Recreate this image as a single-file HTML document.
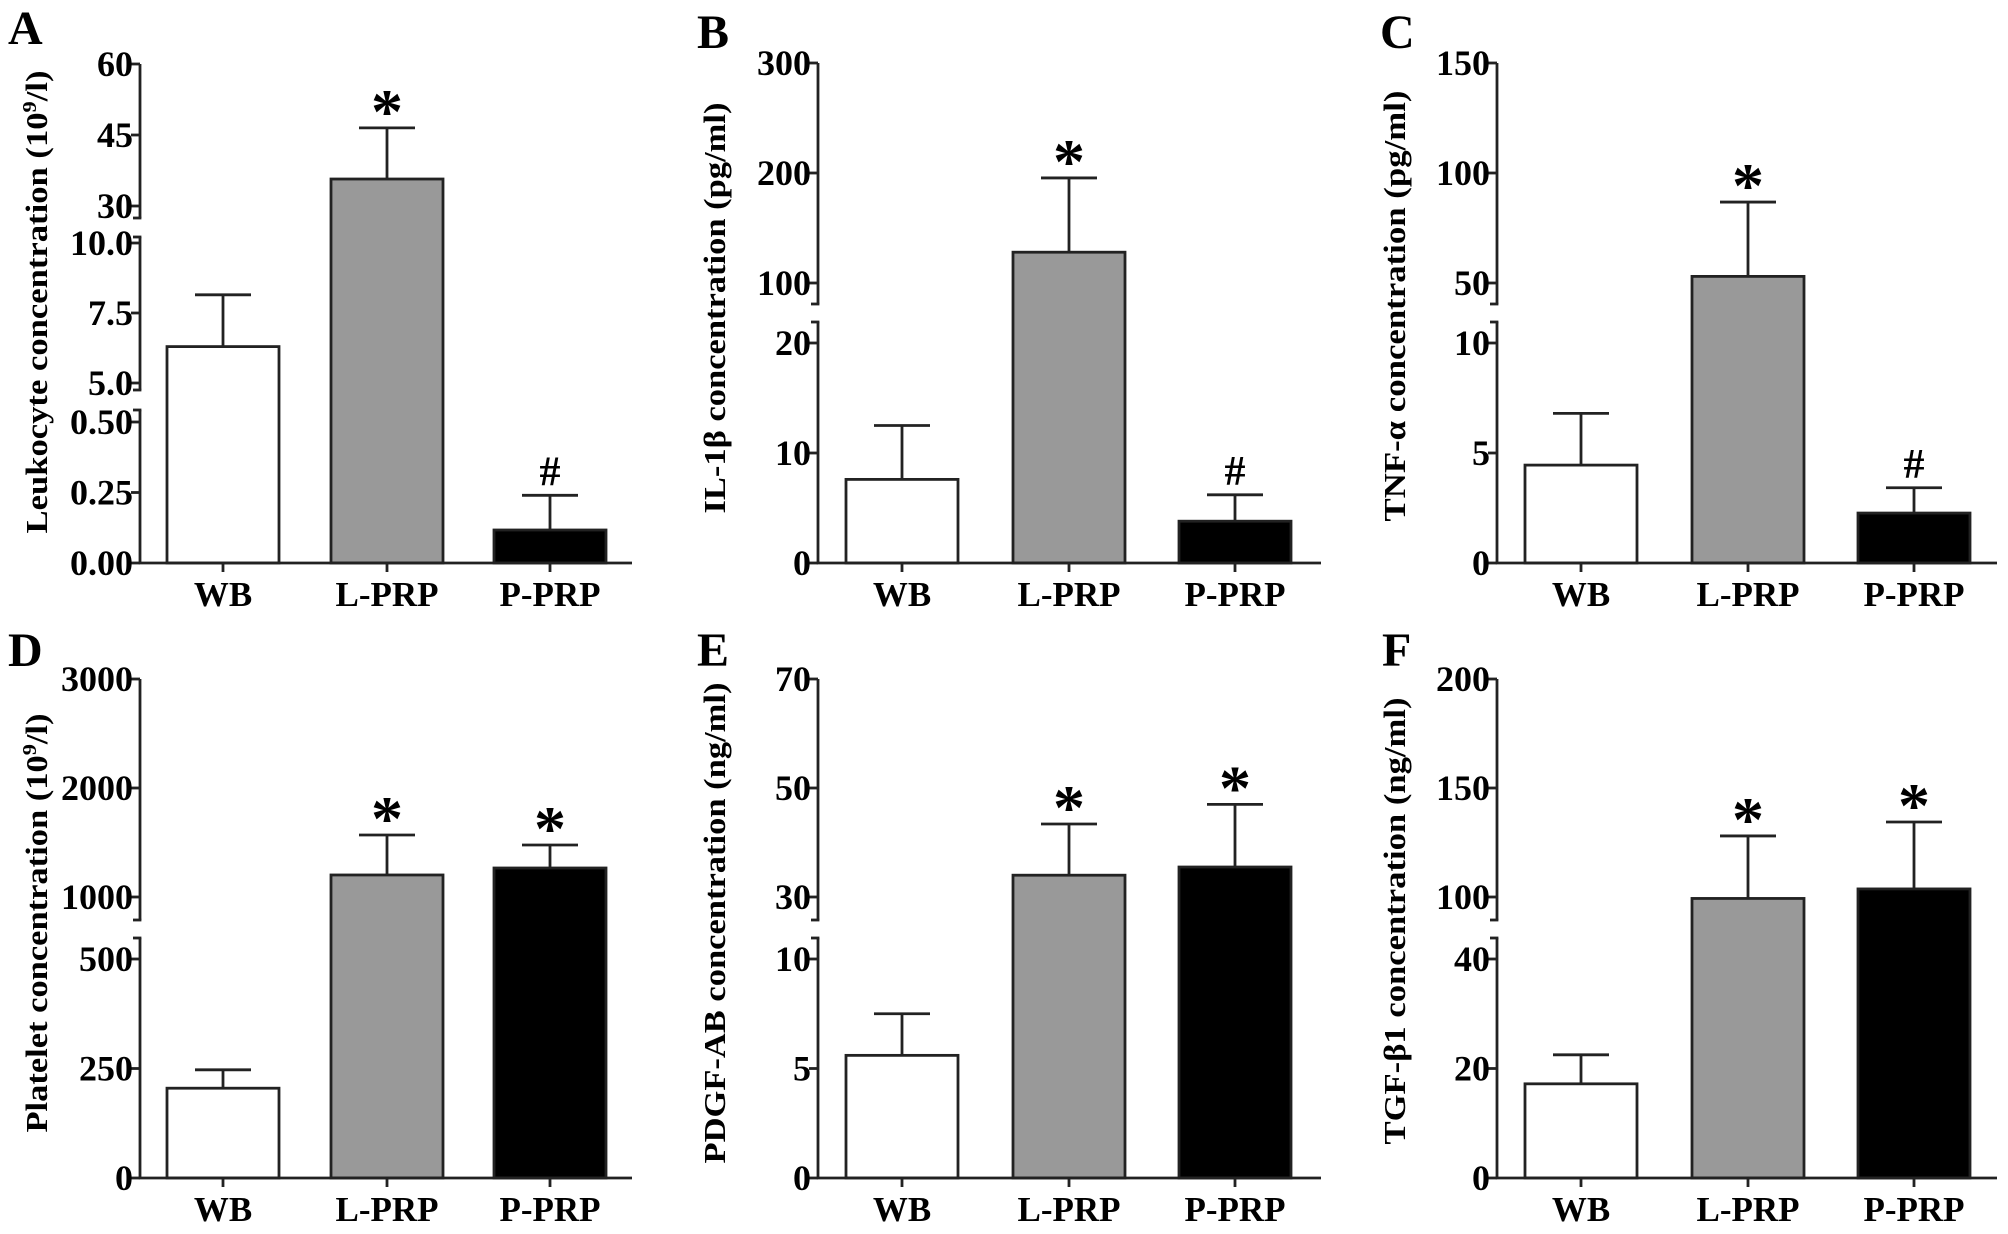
<!DOCTYPE html>
<html><head><meta charset="utf-8"><style>
html,body{margin:0;padding:0;background:#fff;}
svg{display:block;font-family:"Liberation Serif",serif;font-weight:bold;}
</style></head><body>
<svg id="fig" width="2008" height="1234" viewBox="0 0 2008 1234" xmlns="http://www.w3.org/2000/svg"></svg>
<script>
const categories = ['WB', 'L-PRP', 'P-PRP'];
// Panel A: Leukocyte
const aMeans = [6.3, 35.7, 0.117];
const aErr = [1.85, 10.8, 0.123];
const aMarks = ['', '*', '#'];
// Panel B: IL-1β
const bMeans = [7.6, 128, 3.8];
const bErr = [4.9, 67.5, 2.4];
const bMarks = ['', '*', '#'];
// Panel C: TNF-α
const cMeans = [4.45, 53, 2.27];
const cErr = [2.35, 33.8, 1.15];
const cMarks = ['', '*', '#'];
// Panel D: Platelet
const dMeans = [205, 1202, 1266];
const dErr = [42, 367, 211];
const dMarks = ['', '*', '*'];
// Panel E: PDGF-AB
const eMeans = [5.6, 34, 35.5];
const eErr = [1.9, 9.4, 11.5];
const eMarks = ['', '*', '*'];
// Panel F: TGF-β1
const fMeans = [17.2, 98.6, 103.7];
const fErr = [5.3, 29.4, 30.7];
const fMarks = ['', '*', '*'];
// tick labels
const aTicks = [['30','45','60'], ['5.0','7.5','10.0'], ['0.00','0.25','0.50']];
const bTicks = [['100','200','300'], ['0','10','20']];
const cTicks = [['50','100','150'], ['0','5','10']];
const dTicks = [['1000','2000','3000'], ['0','250','500']];
const eTicks = [['30','50','70'], ['0','5','10']];
const fTicks = [['100','150','200'], ['0','20','40']];

const NS = 'http://www.w3.org/2000/svg';
const svg = document.getElementById('fig');
function mk(tag, attrs, parent) {
  const e = document.createElementNS(NS, tag);
  for (const k in attrs) e.setAttribute(k, attrs[k]);
  (parent || svg).appendChild(e);
  return e;
}
const fills = ['#ffffff', '#999999', '#000000'];

function panel(cfg) {
  const g = mk('g', {});
  
  
  const ax = cfg.ax;
  const segs = cfg.ticks.map((t, i) => {
    const lo = parseFloat(t[0]), hi = parseFloat(t[t.length - 1]);
    const gg = cfg.geo[i];
    return { lo, hi, yLo: gg[0], yHi: gg[1], lineB: gg[2], lineT: gg[3], labels: t };
  });
  function segMap(s, v) { return s.yLo + (v - s.lo) * (s.yHi - s.yLo) / (s.hi - s.lo); }
  function yScale(v) {
    for (let i = 0; i < segs.length; i++) {
      const s = segs[i];
      if (v >= s.lo) return segMap(s, v);
      const below = segs[i + 1];
      if (below && v > below.hi) {
        const y1 = segMap(below, below.hi), y2 = segMap(s, s.lo);
        return y1 + (v - below.hi) * (y2 - y1) / (s.lo - below.hi);
      }
    }
    return segMap(segs[segs.length - 1], v);
  }
  const base = segs[segs.length - 1].yLo;
  cfg.means.forEach((m, i) => {
    const x = ax + cfg.barOff[i];
    const cx = x + 56;
    const yTop = yScale(m);
    const yErr = yScale(m + cfg.err[i]);
    const eb = mk('line', { x1: cx, y1: yTop, x2: cx, y2: yErr, stroke: '#222', 'stroke-width': 2.8 }, g);
    
    
    const cap = mk('line', { x1: cx - 28, y1: yErr, x2: cx + 28, y2: yErr, stroke: '#222', 'stroke-width': 2.8 }, g);
    
    
    const r = mk('rect', { x: x, y: yTop, width: 112, height: base - yTop, fill: fills[i], stroke: '#222', 'stroke-width': 2.8 }, g);
    
    
    const mark = cfg.marks[i];
    if (mark === '*') {
      const t = mk('text', { x: cx, y: yErr + 5, 'text-anchor': 'middle', 'font-size': 64 }, g);
      t.textContent = '*';
      
      
    } else if (mark === '#') {
      const t = mk('text', { x: cx, y: yErr - 10, 'text-anchor': 'middle', 'font-size': 42 }, g);
      t.textContent = '#';
      
      
    }
    mk('line', { x1: cx, y1: base, x2: cx, y2: base + 9, stroke: '#222', 'stroke-width': 2.8 }, g);
    const lbl = mk('text', { x: cx, y: base + 43, 'text-anchor': 'middle', 'font-size': 35 }, g);
    lbl.textContent = categories[i];
    
    
  });
  segs.forEach((s, si) => {
    const l = mk('line', { x1: ax, y1: s.lineB, x2: ax, y2: s.lineT, stroke: '#222', 'stroke-width': 2.8 }, g);
    
    
    if (si > 0) mk('line', { x1: ax - 7, y1: s.lineT, x2: ax + 1.4, y2: s.lineT, stroke: '#222', 'stroke-width': 2.8 }, g);
    if (si < segs.length - 1) mk('line', { x1: ax - 7, y1: s.lineB, x2: ax + 1.4, y2: s.lineB, stroke: '#222', 'stroke-width': 2.8 }, g);
    s.labels.forEach(lab => {
      const yy = segMap(s, parseFloat(lab));
      mk('line', { x1: ax - 9, y1: yy, x2: ax, y2: yy, stroke: '#222', 'stroke-width': 2.8 }, g);
      const t = mk('text', { x: ax - 7, y: yy + 12, 'text-anchor': 'end', 'font-size': 36 }, g);
      t.textContent = lab;
      
      
    });
  });
  const xa = mk('line', { x1: ax - 1.4, y1: base, x2: ax + cfg.axLen, y2: base, stroke: '#222', 'stroke-width': 2.8 }, g);
  
  
  const tt = mk('text', { x: 0, y: 0, 'text-anchor': 'middle', 'font-size': 31,
    transform: 'translate(' + (cfg.titleX + 11) + ',' + cfg.titleY + ') rotate(-90)',
    textLength: cfg.titleLen, lengthAdjust: 'spacingAndGlyphs' }, g);
  
  
  cfg.title.forEach(part => {
    const ts = mk('tspan', part.sup ? { 'baseline-shift': 'super', 'font-size': 20 } : {}, tt);
    ts.textContent = part.t;
  });
  const L = mk('text', { x: cfg.letterX, y: cfg.letterY, 'font-size': 48 }, g);
  L.textContent = cfg.id.toUpperCase();
  
  
}

const topGeo3 = [[206, 64, 218, 64], [383, 243, 390, 237], [563, 422, 563, 410]];
const topGeo2 = [[283, 63, 304, 63], [563, 343, 563, 322]];
const botGeo2 = [[897, 679, 920, 679], [1178, 959, 1178, 938]];
const offA = [27, 191, 354];
const offB = [28, 195, 361];

panel({ id: 'a', ax: 140, axLen: 492, barOff: offA, means: aMeans, err: aErr, marks: aMarks, ticks: aTicks, geo: topGeo3,
  title: [{ t: 'Leukocyte concentration (10' }, { t: '9', sup: true }, { t: '/l)' }], titleX: 36, titleY: 302, titleLen: 463, letterX: 8, letterY: 44 });
panel({ id: 'b', ax: 818, axLen: 503, barOff: offB, means: bMeans, err: bErr, marks: bMarks, ticks: bTicks, geo: topGeo2,
  title: [{ t: 'IL-1β concentration (pg/ml)' }], titleX: 714, titleY: 308, titleLen: 411, letterX: 697, letterY: 48 });
panel({ id: 'c', ax: 1497, axLen: 500, barOff: offB, means: cMeans, err: cErr, marks: cMarks, ticks: cTicks, geo: topGeo2,
  title: [{ t: 'TNF-α concentration (pg/ml)' }], titleX: 1394, titleY: 306, titleLen: 431, letterX: 1380, letterY: 48 });
panel({ id: 'd', ax: 140, axLen: 492, barOff: offA, means: dMeans, err: dErr, marks: dMarks, ticks: dTicks, geo: botGeo2,
  title: [{ t: 'Platelet concentration (10' }, { t: '9', sup: true }, { t: '/l)' }], titleX: 36, titleY: 923, titleLen: 419, letterX: 8, letterY: 666 });
panel({ id: 'e', ax: 818, axLen: 503, barOff: offB, means: eMeans, err: eErr, marks: eMarks, ticks: eTicks, geo: botGeo2,
  title: [{ t: 'PDGF-AB concentration (ng/ml)' }], titleX: 714, titleY: 923, titleLen: 481, letterX: 697, letterY: 666 });
panel({ id: 'f', ax: 1497, axLen: 500, barOff: offB, means: fMeans, err: fErr, marks: fMarks, ticks: fTicks, geo: botGeo2,
  title: [{ t: 'TGF-β1 concentration (ng/ml)' }], titleX: 1394, titleY: 921, titleLen: 447, letterX: 1382, letterY: 666 });
</script>
</body></html>
